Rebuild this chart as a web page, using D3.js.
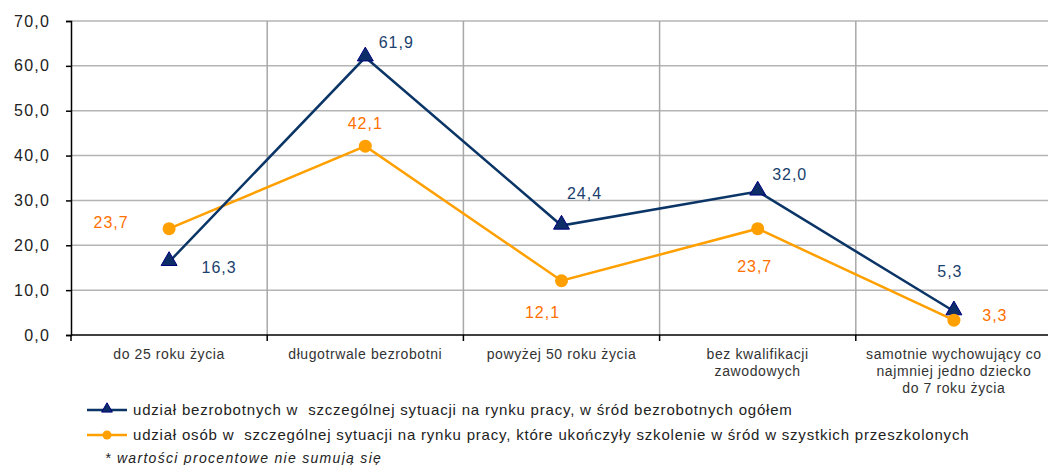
<!DOCTYPE html>
<meta charset="utf-8">
<style>
    body { margin: 0; background: #fff; }
    text { font-family: "Liberation Sans", Arial, sans-serif; }
    .cat { font-size: 14px; fill: #333; letter-spacing: 0.6px; }
    .lbl { font-size: 16px; letter-spacing: 1px; }
    .leg { font-size: 15px; fill: #222; white-space: pre; letter-spacing: 0.8px; }
</style>
<svg id="c" width="1048" height="465"></svg>
<script src="https://cdn.jsdelivr.net/npm/d3@7"></script>
<script>
    var categories = [
        ["do 25 roku życia"],
        ["długotrwale bezrobotni"],
        ["powyżej 50 roku życia"],
        ["bez kwalifikacji", "zawodowych"],
        ["samotnie wychowujący co", "najmniej jedno dziecko", "do 7 roku życia"]
    ];
    var seriesUnemployed = [16.3, 61.9, 24.4, 32.0, 5.3];
    var seriesTrained = [23.7, 42.1, 12.1, 23.7, 3.3];
    var yTicks = [0, 10, 20, 30, 40, 50, 60, 70];
    var legendNames = [
        "udział bezrobotnych w  szczególnej sytuacji na rynku pracy, w śród bezrobotnych ogółem",
        "udział osób w  szczególnej sytuacji na rynku pracy, które ukończyły szkolenie w śród w szystkich przeszkolonych"
    ];
    var footnote = "* wartości procentowe nie sumują się";
    // label offsets (px) from the point, per series
    var offUnemployed = [[50, 6], [31, -15], [23, -32], [32, -17], [-4, -40]];
    var offTrained = [[-58, -6], [0, -23], [-19, 32], [-3, 38], [41, -5]];

    var svg = d3.select("#c"),
        margin = { top: 21, left: 71 },
        plotW = 981, plotH = 314;
    var g = svg.append("g").attr("transform", "translate(" + margin.left + "," + margin.top + ")");

    var x = d3.scaleBand().domain(d3.range(categories.length)).range([0, plotW]);
    var y = d3.scaleLinear().domain([0, 70]).range([plotH, 0]);
    var fmt = function (v) { return d3.format(".1f")(v).replace(".", ","); };

    // grid
    g.append("g").selectAll("line").data(yTicks.slice(1)).enter().append("line")
        .attr("x1", 0).attr("x2", plotW)
        .attr("y1", d => y(d)).attr("y2", d => y(d))
        .attr("stroke", "#b4b4b4").attr("stroke-width", 1.5);
    g.append("g").selectAll("line").data(d3.range(1, categories.length + 1)).enter().append("line")
        .attr("x1", d => d * x.bandwidth()).attr("x2", d => d * x.bandwidth())
        .attr("y1", 0).attr("y2", plotH)
        .attr("stroke", "#a8a8a8").attr("stroke-width", 1.5);

    // y axis
    var yAxis = g.append("g")
        .call(d3.axisLeft(y).tickValues(yTicks).tickFormat(fmt).tickSize(5).tickPadding(16));
    yAxis.select(".domain").attr("stroke", "#000").attr("stroke-width", 1.5);
    yAxis.selectAll(".tick line").attr("stroke", "#000").attr("stroke-width", 1.5);
    yAxis.selectAll(".tick text")
        .style("font-size", "16px")
        .style("font-family", "Liberation Sans, Arial, sans-serif")
        .style("letter-spacing", "1.2px")
        .attr("fill", "#222");

    // x axis
    g.append("line").attr("x1", 0).attr("x2", plotW).attr("y1", plotH).attr("y2", plotH)
        .attr("stroke", "#000").attr("stroke-width", 1.5);
    g.append("g").selectAll("line").data(d3.range(0, categories.length + 1)).enter().append("line")
        .attr("x1", d => d * x.bandwidth()).attr("x2", d => d * x.bandwidth())
        .attr("y1", plotH).attr("y2", plotH + 6)
        .attr("stroke", "#000").attr("stroke-width", 1.5);
    var cat = g.append("g").selectAll("text").data(categories).enter().append("text")
        .attr("class", "cat")
        .attr("text-anchor", "middle")
        .attr("x", (d, i) => x(i) + x.bandwidth() / 2)
        .attr("y", plotH + 24);
    cat.selectAll("tspan").data(d => d).enter().append("tspan")
        .attr("x", function () { return d3.select(this.parentNode).attr("x"); })
        .attr("dy", (d, i) => i === 0 ? 0 : 17)
        .text(d => d);

    var cx = i => x(i) + x.bandwidth() / 2;
    var line = d3.line().x((d, i) => cx(i)).y(d => y(d));

    var blue = "#0b3566", orange = "#ffa000";

    g.append("path").datum(seriesTrained).attr("d", line)
        .attr("fill", "none").attr("stroke", orange).attr("stroke-width", 2.5);
    g.append("path").datum(seriesUnemployed).attr("d", line)
        .attr("fill", "none").attr("stroke", blue).attr("stroke-width", 2.5);

    var tri = d3.symbol().type(d3.symbolTriangle).size(110);
    g.append("g").selectAll("path").data(seriesUnemployed).enter().append("path")
        .attr("d", tri)
        .attr("transform", (d, i) => "translate(" + cx(i) + "," + (y(d) - 1) + ")")
        .attr("fill", "#0d2d66").attr("stroke", "#000080").attr("stroke-width", 1);
    g.append("g").selectAll("circle").data(seriesTrained).enter().append("circle")
        .attr("cx", (d, i) => cx(i)).attr("cy", d => y(d))
        .attr("r", 6.5).attr("fill", orange);

    g.append("g").selectAll("text").data(seriesUnemployed).enter().append("text")
        .attr("class", "lbl").attr("text-anchor", "middle").attr("dy", "0.35em")
        .attr("fill", "#1b3f6e")
        .attr("x", (d, i) => cx(i) + offUnemployed[i][0])
        .attr("y", (d, i) => y(d) + offUnemployed[i][1])
        .text(fmt);
    g.append("g").selectAll("text").data(seriesTrained).enter().append("text")
        .attr("class", "lbl").attr("text-anchor", "middle").attr("dy", "0.35em")
        .attr("fill", "#ff7000")
        .attr("x", (d, i) => cx(i) + offTrained[i][0])
        .attr("y", (d, i) => y(d) + offTrained[i][1])
        .text(fmt);

    // legend
    var leg = svg.append("g");
    [0, 1].forEach(function (k) {
        var ly = 410 + k * 25;
        var col = k === 0 ? blue : orange;
        leg.append("line").attr("x1", 87).attr("x2", 127).attr("y1", ly).attr("y2", ly)
            .attr("stroke", col).attr("stroke-width", 2.5);
        if (k === 0) {
            leg.append("path").attr("d", d3.symbol().type(d3.symbolTriangle).size(50))
                .attr("transform", "translate(107," + (ly - 1) + ")")
                .attr("fill", "#0d2d66").attr("stroke", "#000080");
        } else {
            leg.append("circle").attr("cx", 107).attr("cy", ly).attr("r", 4.5).attr("fill", orange);
        }
        leg.append("text").attr("class", "leg").attr("x", 133).attr("y", ly).attr("dy", "0.35em")
            .text(legendNames[k]);
    });
    leg.append("text").attr("class", "leg").attr("x", 105).attr("y", 458).attr("dy", "0.35em")
        .attr("font-style", "italic").style("font-size", "14px").style("letter-spacing", "1.3px")
        .text(footnote);
</script>
